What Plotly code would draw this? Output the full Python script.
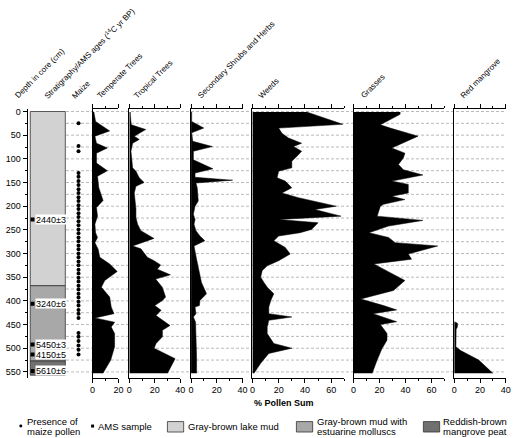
import plotly.graph_objects as go

W, H = 518, 438
FONT = "Arial, Liberation Sans, sans-serif"

# ---------------- data ----------------
depth_ticks = [0, 50, 100, 150, 200, 250, 300, 350, 400, 450, 500, 550]
grid_depths = [0, 25, 50, 75, 100, 125, 150, 175, 200, 225, 250, 275, 300, 325,
               350, 375, 400, 425, 450, 475, 500, 525, 550]

temperate_depth = [1, 6, 21, 41, 52, 67, 77, 88, 109, 125, 137, 161, 188, 203, 221,
                   238, 256, 266, 277, 291, 308, 322, 338, 357, 371, 392, 413, 427,
                   436, 445, 455, 469, 497, 525, 553]
temperate_pct = [1.0, 1.3, 2.3, 13.2, 1.8, 3.0, 11.4, 3.0, 3.0, 11.4, 3.8, 4.8, 8.1,
                 3.0, 3.8, 1.8, 2.3, 3.8, 1.8, 4.3, 5.6, 13.2, 19.0, 9.4, 6.8, 13.2,
                 14.4, 16.5, 1.8, 17.0, 14.4, 17.0, 17.0, 14.0, 8.0]

tropical_depth = [1, 6, 28, 38, 52, 59, 67, 84, 119, 126, 140, 150, 158, 172, 206,
                  224, 238, 252, 268, 284, 290, 308, 315, 324, 333, 345, 354, 371,
                  392, 399, 410, 420, 431, 452, 462, 476, 490, 500, 522, 553]
tropical_pct = [0.8, 0.8, 1.5, 12.9, 3.9, 7.8, 2.6, 1.3, 2.6, 5.2, 7.8, 11.6, 5.2,
                3.9, 5.2, 5.2, 6.5, 9.1, 19.4, 2.6, 9.1, 14.2, 19.4, 24.6, 22.0, 32.3,
                20.7, 25.9, 28.5, 26.0, 20.0, 25.0, 21.0, 32.0, 26.0, 26.0, 21.0,
                19.5, 36.0, 30.0]

secondary_depth = [1, 21, 35, 45, 63, 74, 84, 102, 121, 130, 139, 145, 151, 161, 189,
                   200, 217, 228, 238, 252, 263, 273, 284, 298, 312, 329, 343, 361,
                   385, 399, 410, 413, 427, 434, 445, 480, 520, 553]
secondary_pct = [0.5, 0.5, 9.9, 0.5, 1.3, 16.5, 1.8, 1.8, 17.0, 3.1, 3.1, 32.3, 3.8,
                 4.8, 5.6, 3.1, 1.8, 3.1, 2.3, 3.8, 6.9, 10.7, 2.3, 3.1, 4.3, 5.6,
                 6.9, 8.1, 12.0, 6.9, 6.5, 3.1, 3.8, 1.8, 3.5, 4.0, 4.3, 4.3]

weeds_depth = [1, 27, 35, 46, 56, 67, 74, 84, 95, 105, 119, 126, 140, 147, 161, 172,
               182, 200, 207, 221, 228, 235, 249, 256, 263, 273, 287, 301, 315, 326,
               336, 350, 361, 371, 385, 399, 413, 427, 434, 441, 455, 469, 490, 500,
               511, 532, 553]
weeds_pct = [41.3, 68.8, 20.0, 22.5, 27.5, 37.5, 31.3, 37.5, 33.8, 30.0, 30.0, 20.0,
             18.8, 25.0, 30.0, 22.5, 35.0, 63.8, 47.5, 67.5, 20.0, 50.0, 45.0, 36.3,
             20.0, 16.3, 25.0, 28.8, 20.0, 11.3, 7.5, 6.3, 8.8, 11.3, 16.3, 14.0,
             12.5, 12.5, 30.0, 12.5, 11.3, 11.3, 16.3, 30.0, 12.5, 6.3, 1.2]

grasses_depth = [1, 6, 28, 35, 52, 77, 88, 98, 112, 123, 134, 147, 154, 172, 179, 186,
                 196, 200, 221, 230, 242, 256, 266, 277, 284, 301, 312, 322, 333, 357,
                 378, 396, 410, 419, 427, 444, 450, 469, 483, 501, 525, 553]
grasses_pct = [35.9, 35.9, 20.7, 28.3, 49.7, 29.5, 39.6, 38.4, 34.6, 38.4, 53.5, 29.5,
               42.2, 42.2, 29.5, 39.6, 23.2, 20.7, 18.2, 53.5, 27.0, 11.9, 27.0, 32.1,
               64.9, 42.2, 44.7, 15.7, 23.2, 39.6, 30.8, 5.6, 23.2, 33.3, 15.0, 33.3,
               20.7, 25.8, 25.8, 21.9, 18.2, 14.4]

mangrove_depth = [444, 447, 455, 460, 497, 505, 525, 553]
mangrove_pct = [0.0, 2.5, 2.5, 1.5, 1.3, 5.0, 19.0, 30.0]

maize_depth = [25, 73, 84, 130, 138, 147, 155, 164, 172, 181, 189, 198, 206, 215, 223,
               232, 240, 249, 257, 266, 274, 283, 291, 300, 308, 317, 325, 334, 342,
               351, 359, 368, 376, 385, 393, 402, 410, 419, 427, 436, 468, 476, 485,
               494, 503, 513]

ams_depth = [228, 406, 492, 513, 548]
ams_label = ["2440±3", "3240±6", "5450±3", "4150±5", "5610±6"]

strat_top = [0, 368, 527]
strat_bottom = [368, 527, 557]
strat_names = [["Gray-brown lake mud"], ["Gray-brown mud with", "estuarine molluscs"],
               ["Reddish-brown", "mangrove peat"]]
strat_colors = ["#d2d2d2", "#a8a8a8", "#707070"]

panel_names = ["Temperate Trees", "Tropical Trees", "Secondary Shrubs and Herbs",
               "Weeds", "Grasses", "Red mangrove"]
panel_max = [20, 40, 40, 70, 70, 40]

# ---------------- layout helpers ----------------
def px(x):
    return x / W

def py(y):
    return 1 - y / H

Y_DOM = [py(377.3), py(107.3)]
Y_RANGE = [562, -5.7]
panel_px = [(91, 117.3), (128.3, 180), (191, 243.3), (253.3, 346.7),
            (356, 448.3), (458.3, 510.7)]
series = [(temperate_depth, temperate_pct), (tropical_depth, tropical_pct),
          (secondary_depth, secondary_pct), (weeds_depth, weeds_pct),
          (grasses_depth, grasses_pct), (mangrove_depth, mangrove_pct)]

fig = go.Figure()
layout = dict(
    width=W, height=H, margin=dict(l=0, r=0, t=0, b=0),
    paper_bgcolor="white", plot_bgcolor="rgba(0,0,0,0)",
    showlegend=False, font=dict(family=FONT, size=9, color="black"),
    xaxis=dict(domain=[px(25), px(90)], range=[25, 90], visible=False,
               anchor="y", fixedrange=True),
    yaxis=dict(domain=Y_DOM, range=Y_RANGE, anchor="x", showline=True,
               linecolor="black", linewidth=1, ticks="outside", ticklen=4,
               tickcolor="black", tickvals=depth_ticks, showgrid=False,
               zeroline=False, tickfont=dict(size=9, family=FONT),
               minor=dict(tickvals=grid_depths, ticks="outside", ticklen=2,
                          tickcolor="black", showgrid=False)),
)

for i, ((d, v), (x0, x1), mx) in enumerate(zip(series, panel_px, panel_max)):
    k = i + 2
    layout[f"xaxis{k}"] = dict(
        domain=[px(x0), px(x1)], range=[0, mx], anchor=f"y{k}", showline=True,
        mirror="ticks", linecolor="black", linewidth=1, ticks="outside",
        ticklen=4, tickcolor="black", tick0=0, dtick=20, showgrid=False,
        zeroline=False, tickfont=dict(size=9, family=FONT),
        minor=dict(dtick=10, tick0=0, ticks="outside", ticklen=2,
                   tickcolor="black", showgrid=False))
    layout[f"yaxis{k}"] = dict(
        domain=Y_DOM, range=Y_RANGE, anchor=f"x{k}", showline=True,
        linecolor="black", linewidth=1, ticks="", showticklabels=False,
        showgrid=False, zeroline=False)
    fig.add_trace(go.Scatter(
        x=v, y=d, xaxis=f"x{k}", yaxis=f"y{k}", mode="lines",
        fill="tozerox", fillcolor="black",
        line=dict(color="black", width=0.5), hoverinfo="skip"))

# maize presence
fig.add_trace(go.Scatter(
    x=[76.7] * len(maize_depth), y=maize_depth, xaxis="x", yaxis="y",
    mode="markers", marker=dict(color="black", size=4), hoverinfo="skip"))
# AMS samples
fig.add_trace(go.Scatter(
    x=[30] * len(ams_depth), y=ams_depth, xaxis="x", yaxis="y",
    mode="markers", marker=dict(color="black", size=4, symbol="square"),
    hoverinfo="skip"))

shapes = []
annotations = []

# stratigraphy column
for t, b, c in zip(strat_top, strat_bottom, strat_colors):
    shapes.append(dict(type="rect", xref="x", yref="y", x0=27.7, x1=63.3,
                       y0=t, y1=b, fillcolor=c,
                       line=dict(color="#333333", width=0.8), layer="below"))

for d, lab in zip(ams_depth, ams_label):
    annotations.append(dict(x=32, y=d, xref="x", yref="y", text=lab,
                            showarrow=False, xanchor="left", yanchor="middle",
                            bgcolor="white", borderpad=0, height=9,
                            font=dict(size=9, family=FONT, color="black")))

# dashed horizontal guides
for d in grid_depths:
    shapes.append(dict(type="line", xref="paper", yref="y", x0=px(64),
                       x1=px(511), y0=d, y1=d, layer="below",
                       line=dict(color="#9c9c9c", width=0.7, dash="3px,2px")))

# rotated column titles
titles = [("Depth in core (cm)", 16), ("Stratigraphy/AMS ages (<sup>14</sup>C yr BP)", 45),
          ("Maize", 74)] + list(zip(panel_names, [100, 137, 202, 263, 367, 468]))
for txt, x0 in titles:
    annotations.append(dict(x=px(x0 - 7), y=py(100), xref="paper", yref="paper",
                            text=txt, showarrow=False, textangle=-45,
                            xanchor="left", yanchor="bottom", borderpad=0,
                            font=dict(size=8, family=FONT, color="black")))

annotations.append(dict(x=px(285), y=py(403), xref="paper", yref="paper",
                        text="<b>% Pollen Sum</b>", showarrow=False,
                        yanchor="middle",
                        font=dict(size=9, family=FONT, color="black")))

# legend
def legend_text(x, lines):
    ys = [426] if len(lines) == 1 else [421, 431]
    for yy, ln in zip(ys, lines):
        annotations.append(dict(x=px(x), y=py(yy), xref="paper", yref="paper",
                                text=ln, showarrow=False, xanchor="left",
                                yanchor="middle", borderpad=0,
                                font=dict(size=9.5, family=FONT, color="black")))

shapes.append(dict(type="circle", xref="paper", yref="paper",
                   x0=px(16.6), x1=px(19.6), y0=py(424.5), y1=py(427.5),
                   fillcolor="black", line=dict(width=0)))
legend_text(23, ["Presence of", "maize pollen"])
shapes.append(dict(type="rect", xref="paper", yref="paper",
                   x0=px(89.5), x1=px(92.5), y0=py(424.5), y1=py(427.5),
                   fillcolor="black", line=dict(width=0)))
legend_text(95, ["AMS sample"])
for (bx, tx), lines, c in zip([(167, 187), (298, 318), (427, 446)],
                              strat_names, strat_colors):
    shapes.append(dict(type="rect", xref="paper", yref="paper",
                       x0=px(bx), x1=px(bx + 16.5), y0=py(432), y1=py(421.5),
                       fillcolor=c, line=dict(color="#333333", width=0.8)))
    legend_text(tx, lines)

layout["shapes"] = shapes
layout["annotations"] = annotations
fig.update_layout(**layout)
fig.write_html("out.html", config={"displayModeBar": False, "staticPlot": True},
               post_script="document.body.style.margin='0px';")
